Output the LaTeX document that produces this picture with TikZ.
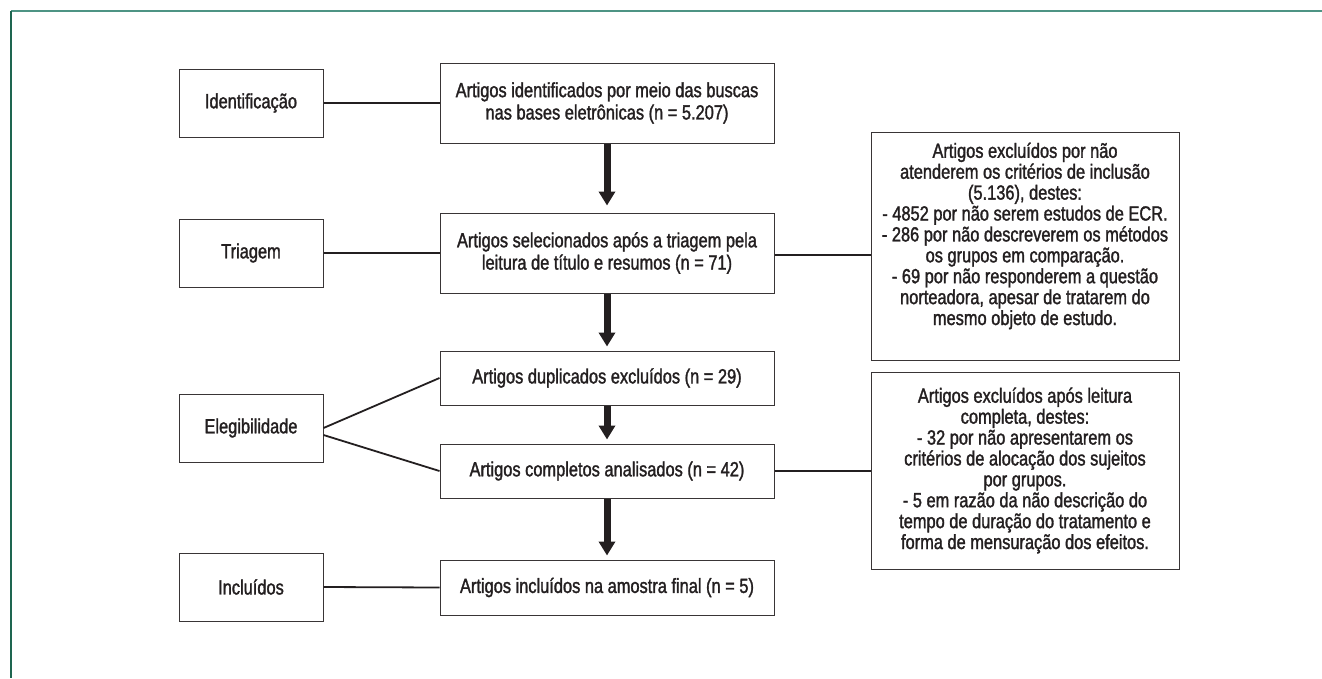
\documentclass[tikz,border=0pt]{standalone}
\usepackage{fontspec}
\setmainfont{Liberation Sans}[FakeStretch=0.8,FakeBold=1.5]
\usetikzlibrary{arrows.meta}
\definecolor{txt}{HTML}{231F20}
\definecolor{frametop}{HTML}{4E9484}
\definecolor{frameleft}{HTML}{1E6650}
\tikzset{
  box/.style={draw=txt!90, line width=1pt, text=txt, align=center, inner sep=0pt, font=\fontsize{20.5}{22.3}\selectfont},
  leftbox/.style={box, minimum width=144pt, minimum height=68pt},
  midbox/.style={box, minimum width=334pt},
  rightbox/.style={box, minimum width=308pt, font=\fontsize{20.5}{20.9}\selectfont},
  conn/.style={draw=txt, line width=1.8pt},
  bigarrow/.style={draw=txt, line width=7pt, -{Triangle[width=16pt,length=14pt]}}
}
\begin{document}
\begin{tikzpicture}[x=1pt,y=-1pt]
\useasboundingbox (0,0) rectangle (1322,678);
\draw[frametop, line width=1.5pt] (11,11) -- (1322,11);
\draw[frameleft, line width=1.5pt] (11,11) -- (11,678);

% left column
\node[leftbox] (ident) at (251,103) {Identificação};
\node[leftbox] (tri) at (251,253) {Triagem};
\node[leftbox] (ele) at (251,428) {Elegibilidade};
\node[leftbox] (inc) at (251,587) {Incluídos};

% middle column
\node[midbox, minimum height=80pt] (b1) at (607,103) {Artigos identificados por meio das buscas\\nas bases eletrônicas (n = 5.207)};
\node[midbox, minimum height=80pt] (b2) at (607,253) {Artigos selecionados após a triagem pela\\leitura de título e resumos (n = 71)};
\node[midbox, minimum height=54pt] (b3) at (607,378) {Artigos duplicados excluídos (n = 29)};
\node[midbox, minimum height=54pt] (b4) at (607,471) {Artigos completos analisados (n = 42)};
\node[midbox, minimum height=55pt] (b5) at (607,587.5) {Artigos incluídos na amostra final (n = 5)};

% right column
\node[rightbox, minimum height=228pt] (r1) at (1025,246) {};
\node[rightbox, draw=none] (r1text) at (1025,236) {Artigos excluídos por não\\atenderem os critérios de inclusão\\(5.136), destes:\\- 4852 por não serem estudos de ECR.\\- 286 por não descreverem os métodos\\os grupos em comparação.\\- 69 por não responderem a questão\\norteadora, apesar de tratarem do\\mesmo objeto de estudo.};
\node[rightbox, minimum height=197pt] (r2) at (1025,470.5) {Artigos excluídos após leitura\\completa, destes:\\- 32 por não apresentarem os\\critérios de alocação dos sujeitos\\por grupos.\\- 5 em razão da não descrição do\\tempo de duração do tratamento e\\forma de mensuração dos efeitos.};

% connectors
\draw[conn] (ident.east) -- (b1.west);
\draw[conn] (tri.east) -- (b2.west);
\draw[conn] (ele.east) -- (b3.west);
\draw[conn] ([yshift=-7pt]ele.east) -- (b4.west);
\draw[conn] (inc.east) -- (b5.west);
\draw[conn] ([yshift=-2pt]b2.east) -- ([yshift=-2pt]b2.east -| r1.west);
\draw[conn] (b4.east) -- (b4.east -| r2.west);

% arrows
\draw[bigarrow] (b1.south) -- ([yshift=7pt]b2.north);
\draw[bigarrow] (b2.south) -- ([yshift=4pt]b3.north);
\draw[bigarrow] (b3.south) -- ([yshift=4pt]b4.north);
\draw[bigarrow] (b4.south) -- ([yshift=4pt]b5.north);
\end{tikzpicture}
\end{document}
